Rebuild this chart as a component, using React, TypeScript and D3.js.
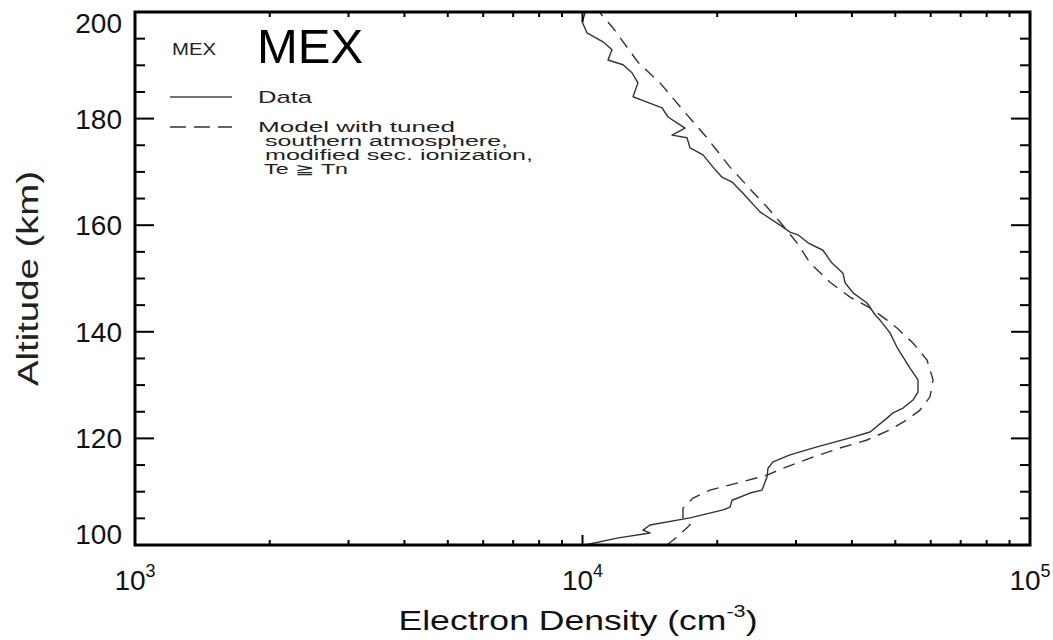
import React from "react";
import * as d3 from "d3";

// Observed electron density profile (MEX)
const dataAlt = [100.0, 101.3, 102.25, 102.8, 103.75, 105.1, 106.6, 107.1, 108.4, 109.75,
  110.3, 112.75, 114.4, 115.6, 116.9, 118.4, 120.1, 121.2, 123.8, 124.8,
  125.7, 127.2, 128.7, 131.0, 133.2, 135.3, 137.1, 139.8, 142.2, 143.2,
  145.4, 147.3, 149.2, 151.0, 152.9, 155.3, 156.7, 158.2, 158.7, 160.0,
  162.5, 166.0, 168.1, 169.0, 170.9, 173.2, 174.5, 176.4, 176.9, 178.2,
  179.2, 180.3, 182.0, 183.1, 184.1, 186.7, 188.6, 190.1, 191.0, 192.9,
  194.4, 196.1, 198.1, 199.8];
const dataDens = [10130, 11940, 14150, 13650, 14150, 17390, 20610, 21360, 21590, 23680,
  25180, 25840, 25970, 26650, 29090, 33420, 39610, 43910, 47910, 49420,
  52030, 54760, 56190, 56190, 53930, 52030, 50440, 48660, 46210, 45040,
  43230, 40230, 38610, 38210, 36100, 34460, 31900, 30300, 29090, 27630,
  24920, 22840, 21590, 20500, 19570, 18590, 17390, 17120, 15850, 16950,
  16260, 15530, 15060, 13940, 12970, 13300, 12900, 12320, 11400, 11640,
  11110, 10230, 9990, 10130];

// Model profile
const modelAlt = [100, 101.5, 103.75, 105.1, 106.9, 108.8, 110.3, 111.6, 113.1, 114.4,
  116.3, 118.2, 119.7, 121.6, 123.5, 125.3, 127.8, 131.0, 134.7, 137.9,
  140.7, 142.2, 144.5, 146.5, 149.3, 152.9, 156.7, 160.6, 163.4, 166.2,
  170.9, 176.4, 181.6, 186.7, 190.6, 197.0, 200];
const modelDens = [15450, 16260, 17390, 16770, 16770, 17660, 19270, 22140, 25840, 28060,
  32250, 37620, 43230, 48660, 53100, 56770, 59780, 60720, 58870, 54760,
  50440, 47910, 43910, 39610, 35740, 32250, 30150, 27630, 25840, 24040,
  21360, 18970, 16770, 14900, 13300, 11700, 10900];

const altTicks = [100, 120, 140, 160, 180, 200];
const altMinorTicks = d3.range(100, 201, 5);
const densMajor = [1e3, 1e4, 1e5];
const densExp = ["3", "4", "5"];
const legendLines = ["Model with tuned", " southern atmosphere,", " modified sec. ionization,", " Te \u2267 Tn"];
const legendWidths = [197, 250, 275, 90];

const W = 1053, H = 640;
const L = 135, R = 1030, T = 12, B = 545;
const FONT = "'Liberation Sans', Arial, Helvetica, sans-serif";

export default function App() {
  const x = d3.scaleLog().domain([1e3, 1e5]).range([L, R]);
  const y = d3.scaleLinear().domain([100, 200]).range([B, T]);
  const line = d3.line<[number, number]>().x(d => x(d[0])).y(d => y(d[1]));
  const dataPts: [number, number][] = dataAlt.map((a, i) => [dataDens[i], a]);
  const modelPts: [number, number][] = modelAlt.map((a, i) => [modelDens[i], a]);
  const xMinor = x.ticks().filter(v => !densMajor.includes(v));
  const yMinor = altMinorTicks.filter(v => !altTicks.includes(v));

  return (
    <svg width={W} height={H} style={{ position: "absolute", left: 0, top: 0, background: "#fff" }}
      fontFamily={FONT}>
      <rect width={W} height={H} fill="#fff" />
      {/* curves */}
      <path d={line(dataPts) || ""} fill="none" stroke="#333" strokeWidth={1.4} strokeLinejoin="round" />
      <path d={line(modelPts) || ""} fill="none" stroke="#333" strokeWidth={1.4} strokeDasharray="12,8" />

      {/* ticks */}
      <g stroke="#000" strokeWidth={2}>
        {altTicks.map(v => (
          <g key={"ma" + v}>
            <line x1={L} x2={L + 19} y1={y(v)} y2={y(v)} />
            <line x1={R} x2={R - 19} y1={y(v)} y2={y(v)} />
          </g>
        ))}
        {yMinor.map(v => (
          <g key={"mi" + v}>
            <line x1={L} x2={L + 10} y1={y(v)} y2={y(v)} />
            <line x1={R} x2={R - 10} y1={y(v)} y2={y(v)} />
          </g>
        ))}
        {densMajor.map(v => (
          <g key={"dx" + v}>
            <line x1={x(v)} x2={x(v)} y1={B} y2={B - 10} />
            <line x1={x(v)} x2={x(v)} y1={T} y2={T + 10} />
          </g>
        ))}
        {xMinor.map(v => (
          <g key={"dm" + v}>
            <line x1={x(v)} x2={x(v)} y1={B} y2={B - 5} />
            <line x1={x(v)} x2={x(v)} y1={T} y2={T + 5} />
          </g>
        ))}
      </g>
      <rect x={L} y={T} width={R - L} height={B - T} fill="none" stroke="#000" strokeWidth={3} />

      {/* y tick labels */}
      {altTicks.map(v => (
        <text key={"yl" + v} x={122} y={Math.min(Math.max(y(v), 23), 534)} dy="0.36em"
          textAnchor="end" fontSize={28} fill="#111">{v}</text>
      ))}
      {/* x tick labels */}
      {densMajor.map((v, i) => (
        <text key={"xl" + v} x={x(v)} y={590} textAnchor="middle" fontSize={28} fill="#111">
          10<tspan fontSize={18} dy={-13}>{densExp[i]}</tspan>
        </text>
      ))}

      {/* axis titles */}
      <text x={578} y={630} textAnchor="middle" fontSize={28} fill="#111" textLength={359}
        lengthAdjust="spacingAndGlyphs">Electron Density (cm<tspan fontSize={17} dy={-13}>-3</tspan><tspan dy={13}>)</tspan></text>
      <text transform={`translate(38,${(B + T) / 2}) rotate(-90)`} textAnchor="middle" fontSize={30}
        fill="#222" textLength={215} lengthAdjust="spacingAndGlyphs">Altitude (km)</text>

      {/* legend */}
      <text x={172} y={55} fontSize={17} fill="#222" textLength={44} lengthAdjust="spacingAndGlyphs">MEX</text>
      <text x={257} y={63} fontSize={49} fill="#000">MEX</text>
      <line x1={170} x2={232} y1={97} y2={97} stroke="#444" strokeWidth={1.4} />
      <text x={258} y={103} fontSize={17} fill="#222" textLength={54} lengthAdjust="spacingAndGlyphs">Data</text>
      <line x1={170} x2={232} y1={127} y2={127} stroke="#333" strokeWidth={1.6} strokeDasharray="16,8" />
      {legendLines.map((s, i) => (
        <text key={"lg" + i} x={258} y={132 + i * 14} fontSize={14} fill="#222" xmlSpace="preserve"
          style={{ whiteSpace: "pre" }} textLength={legendWidths[i]} lengthAdjust="spacingAndGlyphs">{s}</text>
      ))}
    </svg>
  );
}
